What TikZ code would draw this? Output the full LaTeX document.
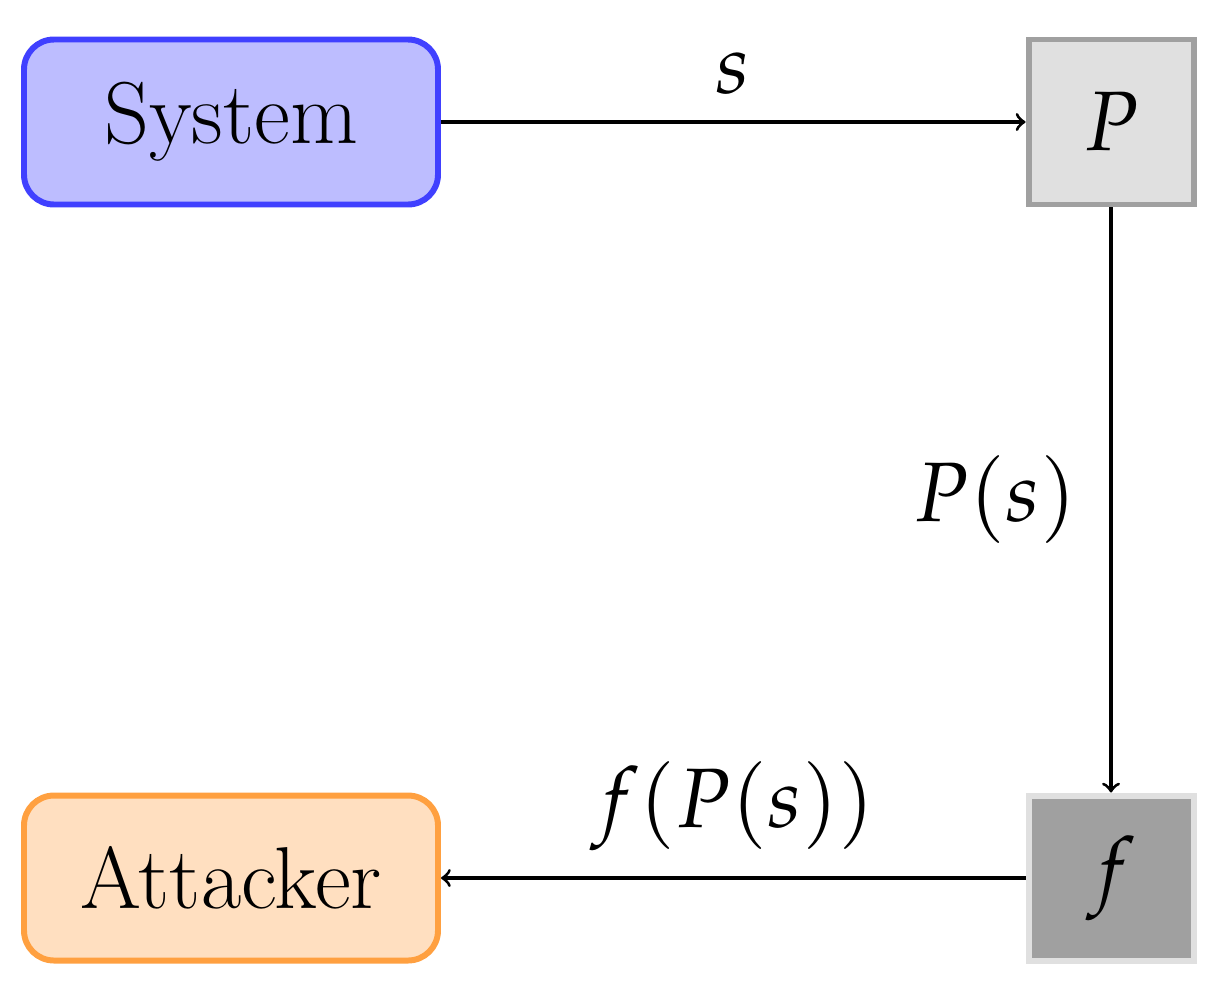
\documentclass[tikz,border=0pt]{standalone}
\usepackage{mathpazo}
\begin{document}
\begin{tikzpicture}[x=1cm,y=1cm,
  big/.style={rounded corners=0.3cm,line width=1.7pt,minimum width=4.14cm,minimum height=1.65cm,font=\fontfamily{ppl}\fontsize{25}{28}\selectfont},
  sq/.style={line width=1.7pt,minimum width=1.65cm,minimum height=1.65cm,font=\fontsize{24}{28}\selectfont},
  arr/.style={->,line width=0.9pt},
  lab/.style={font=\fontsize{24}{28}\selectfont}]
\useasboundingbox (0,0) rectangle (12.22,9.86);
\node[big,draw={rgb,255:red,64;green,64;blue,255},fill={rgb,255:red,189;green,189;blue,255}] (sys) at (2.31,8.64) {System};
\node[sq,draw={rgb,255:red,160;green,160;blue,160},fill={rgb,255:red,224;green,224;blue,224}] (p) at (11.11,8.64) {$P$};
\node[sq,draw={rgb,255:red,224;green,224;blue,224},fill={rgb,255:red,160;green,160;blue,160}] (f) at (11.11,1.08) {$f$};
\node[big,draw={rgb,255:red,255;green,160;blue,64},fill={rgb,255:red,255;green,223;blue,192}] (att) at (2.31,1.08) {Attacker};
\draw[arr] (sys) -- node[lab,above=4pt] {$s$} (p);
\draw[arr] (p) -- node[lab,left=6pt,pos=0.5] {$P(s)$} (f);
\draw[arr] (f) -- node[lab,above=4pt] {$f(P(s))$} (att);
\end{tikzpicture}
\end{document}
